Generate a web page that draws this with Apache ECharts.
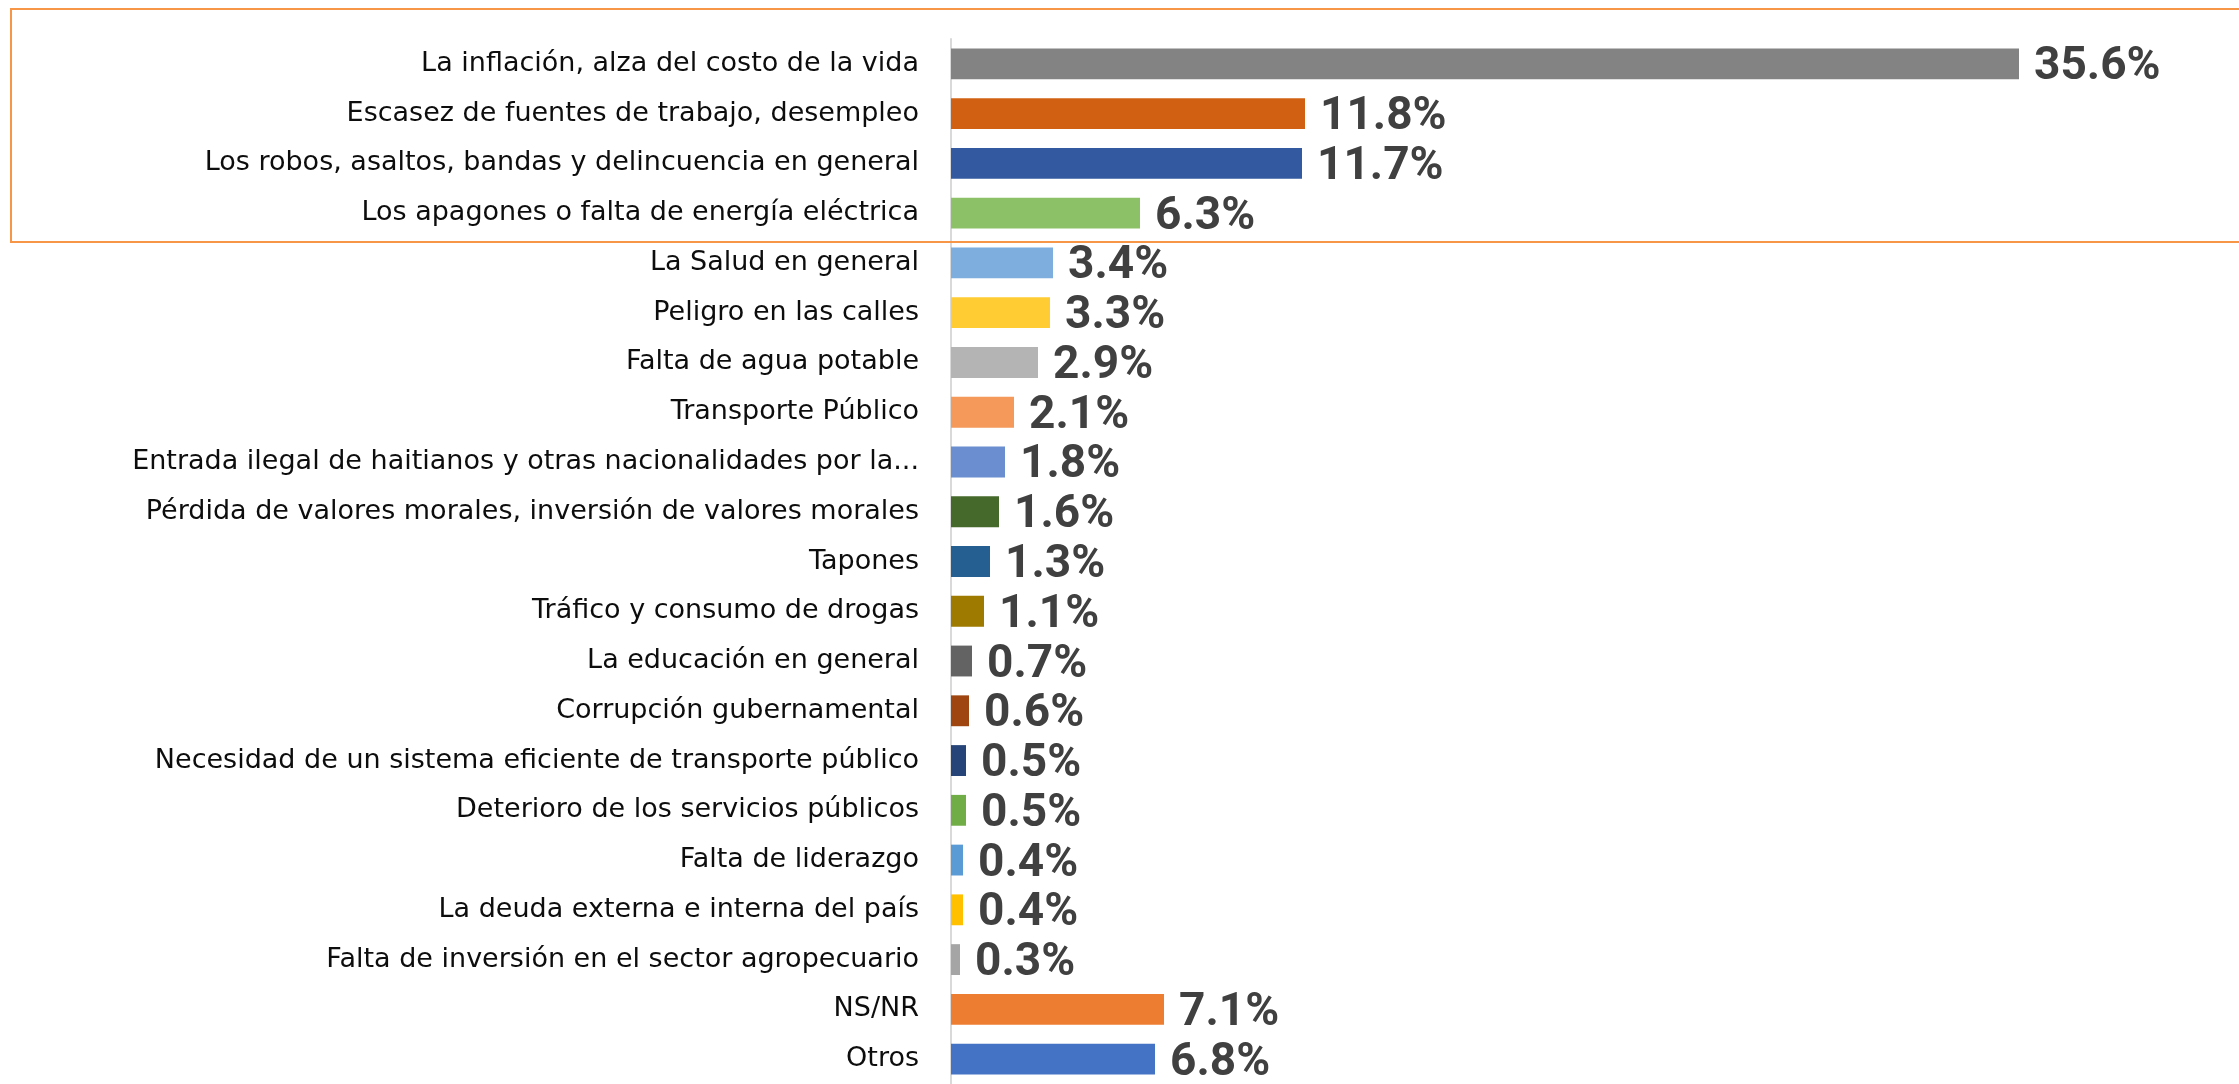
<!DOCTYPE html>
<html><head><meta charset="utf-8">
<script src="https://cdn.jsdelivr.net/npm/echarts@6/dist/echarts.min.js"></script>
<style>html,body{margin:0;padding:0;background:#fff;}#c{width:2239px;height:1084px;}</style>
</head><body><div id="c"></div>
<script>
const categories = [
  "La inflación, alza del costo de la vida",
  "Escasez de fuentes de trabajo, desempleo",
  "Los robos, asaltos, bandas y delincuencia en general",
  "Los apagones o falta de energía eléctrica",
  "La Salud en general",
  "Peligro en las calles",
  "Falta de agua potable",
  "Transporte Público",
  "Entrada ilegal de haitianos y otras nacionalidades por la...",
  "Pérdida de valores morales, inversión de valores morales",
  "Tapones",
  "Tráfico y consumo de drogas",
  "La educación en general",
  "Corrupción gubernamental",
  "Necesidad de un sistema eficiente de transporte público",
  "Deterioro de los servicios públicos",
  "Falta de liderazgo",
  "La deuda externa e interna del país",
  "Falta de inversión en el sector agropecuario",
  "NS/NR",
  "Otros"
];
const values = [35.6, 11.8, 11.7, 6.3, 3.4, 3.3, 2.9, 2.1, 1.8, 1.6, 1.3, 1.1, 0.7, 0.6, 0.5, 0.5, 0.4, 0.4, 0.3, 7.1, 6.8];
const colors = ["#838383","#D26012","#335AA0","#8DC168","#7EAEDE","#FFCD33","#B4B4B4","#F4995A","#6A8ED0","#44692A","#255E91","#9E7A00","#636363","#9E4510","#264478","#70AD47","#5B9BD5","#FFC000","#A5A5A5","#ED7D31","#4472C4"];

const chart = echarts.init(document.getElementById('c'), null, {renderer:'canvas'});
chart.setOption({
  animation: false,
  grid: {left: 951, right: 88, top: 39, bottom: -5, containLabel: false},
  xAxis: {type: 'value', min: 0, max: 40, show: false},
  yAxis: {
    type: 'category', inverse: true, data: categories,
    axisLine: {show: true, lineStyle: {color: '#D9D9D9', width: 2}},
    axisTick: {show: false},
    axisLabel: {color: '#0D0D0D', fontSize: 27, fontFamily: 'DejaVu Sans', margin: 32}
  },
  series: [{
    type: 'bar', barCategoryGap: '38%',
    data: values.map((v, i) => ({value: v, itemStyle: {color: colors[i]}})),
    label: {show: true, position: 'right', distance: 15, offset: [0, 4], formatter: p => p.value.toFixed(1) + '%',
      color: '#404040', fontSize: 46, fontWeight: 'bold', fontFamily: 'Roboto'}
  }],
  graphic: [{type: 'rect', shape: {x: 11, y: 9, width: 2240, height: 233},
    style: {fill: 'none', stroke: '#F79646', lineWidth: 2}, z: 100}]
});
</script></body></html>
